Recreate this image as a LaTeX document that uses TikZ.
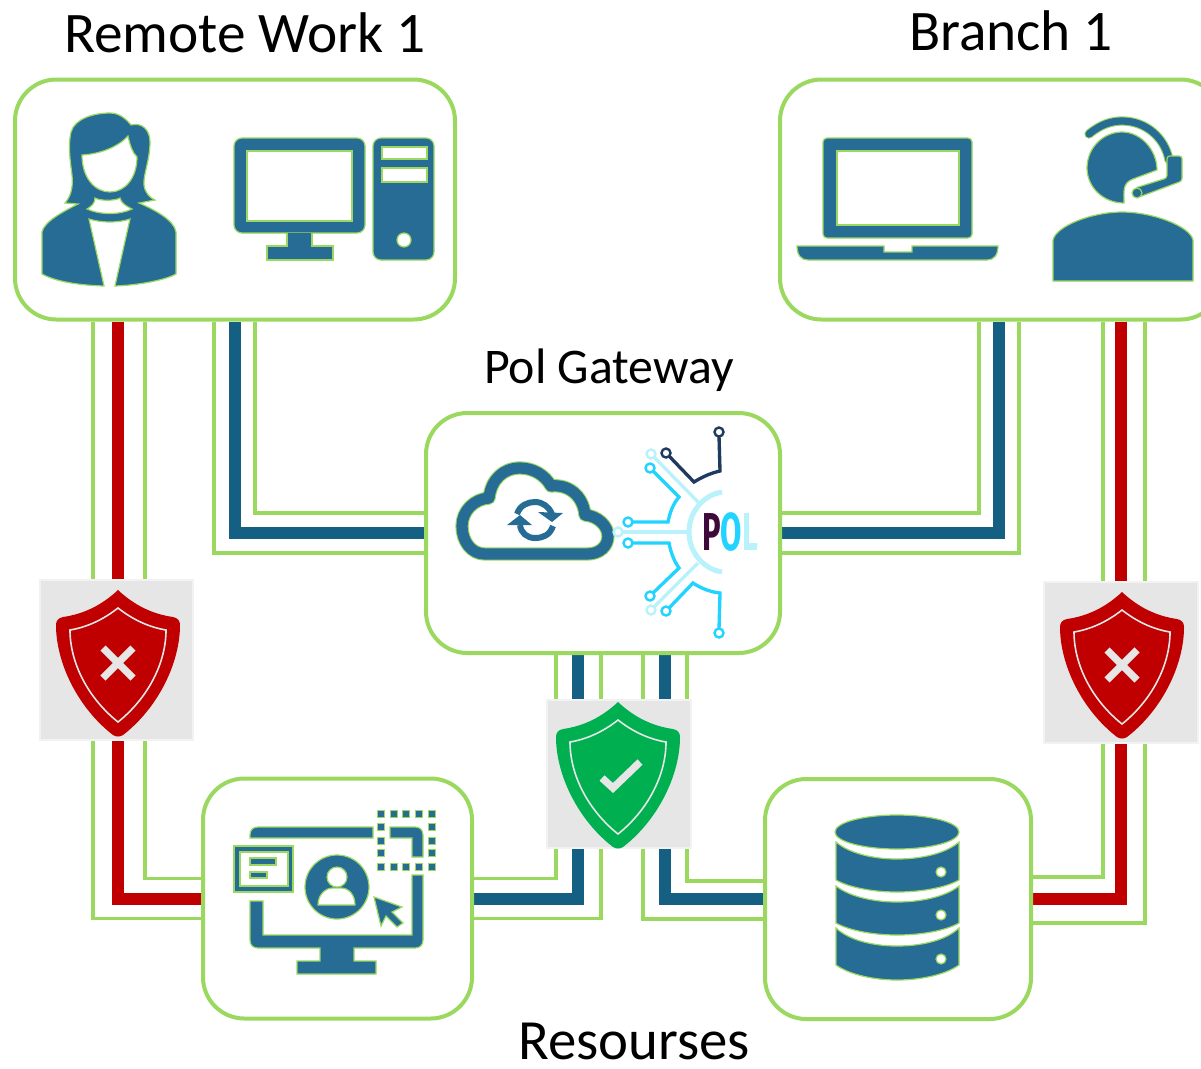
\documentclass[tikz,border=0pt]{standalone}
\usepackage{fontspec}
\setmainfont{Carlito}
\newfontfamily\polfont{Fira Sans}
\usetikzlibrary{calc}
\definecolor{limeline}{RGB}{155,216,95}
\definecolor{iconblue}{RGB}{38,108,148}
\definecolor{wireblue}{RGB}{21,96,130}
\definecolor{wirered}{RGB}{192,0,0}
\definecolor{guardgrey}{RGB}{230,230,230}
\definecolor{guardgreen}{RGB}{0,176,80}
\definecolor{polcyan}{RGB}{32,212,255}
\definecolor{pollight}{RGB}{186,242,251}
\definecolor{poldark}{RGB}{30,58,95}
\definecolor{polplum}{RGB}{62,10,58}
\pgfdeclarelayer{background}
\pgfsetlayers{background,main}
\tikzset{
  panel/.style={draw=limeline,fill=white,line width=3pt,rounded corners=31pt,minimum height=180pt,inner sep=0pt},
  title/.style={anchor=base,inner sep=0.75pt,font=\fontsize{43}{50}\selectfont},
  guard/.style={draw=guardgrey!50,fill=guardgrey,line width=1pt,inner sep=0pt},
  redline/.style={draw=wirered,line width=9pt},
  blueline/.style={draw=wireblue,line width=9pt},
  limewire/.style={draw=limeline,line width=2.6pt},
  icon/.style={fill=iconblue,draw=limeline,line width=0.9pt},
  iconhole/.style={fill=white,draw=limeline,line width=0.9pt},
  trace/.style={line width=2.5pt},
  ring/.style={fill=white,line width=1.8pt},
  shield/.pic={
    \fill [line join=round,pic actions] (0,-73) .. controls (-16,-58) and (-34,-49) .. (-55,-46) .. controls (-60,-45) and (-62,-42) .. (-62,-38) .. controls (-62,0) and (-40,45) .. (-5,72) .. controls (-2,74) and (2,74) .. (5,72) .. controls (40,45) and (62,0) .. (62,-38) .. controls (62,-42) and (60,-45) .. (55,-46) .. controls (34,-49) and (16,-58) .. (0,-73) -- cycle;
    \draw [guardgrey,line width=1.2pt] (0,-55) .. controls (-14,-44) and (-30,-36) .. (-48,-33) .. controls (-48,0) and (-30,35) .. (0,59) .. controls (30,35) and (48,0) .. (48,-33) .. controls (30,-36) and (14,-44) .. (0,-55) -- cycle;
  },
  crossmark/.pic={\draw [guardgrey,line width=5.5pt] (-15,-15) -- (15,15) (-15,15) -- (15,-15);},
  tickmark/.pic={\draw [guardgrey,line width=5.5pt] (-16,3) -- (-5,13) -- (22,-13);},
}

\begin{document}
\begin{tikzpicture}[x=0.75pt,y=0.75pt,yscale=-1,xscale=1]
\useasboundingbox (0,0) rectangle (1201,1068);

%Panels
\draw (235,199.5) node (remote) [panel,minimum width=330pt] {};
\draw (1001,199.5) node (branch) [panel,minimum width=331.5pt] {};
\draw (603,533) node (gateway) [panel,minimum width=265.5pt] {};
\draw (337.5,898.5) node (desktop) [panel,minimum width=201.75pt] {};
\draw (898,899) node (database) [panel,minimum width=199.5pt] {};

%Wires
\begin{pgfonlayer}{background}
\draw [redline] ($(remote.south)+(-117,0)$) |- (desktop.west);
\draw [limewire] ($(remote.south)+(-142,0)$) |- ($(desktop.west)+(0,20)$);
\draw [limewire] ($(remote.south)+(-90,0)$) |- ($(desktop.west)+(0,-20)$);
\draw [blueline] (remote.south) |- (gateway.west);
\draw [limewire] ($(remote.south)+(-21,0)$) |- ($(gateway.west)+(0,20)$);
\draw [limewire] ($(remote.south)+(20,0)$) |- ($(gateway.west)+(0,-20)$);
\draw [blueline] ($(branch.south)+(-2,0)$) |- (gateway.east);
\draw [limewire] ($(branch.south)+(-22,0)$) |- ($(gateway.east)+(0,-20)$);
\draw [limewire] ($(branch.south)+(18,0)$) |- ($(gateway.east)+(0,20)$);
\draw [redline] ($(branch.south)+(120,0)$) |- (database.east);
\draw [limewire] ($(branch.south)+(102,0)$) |- ($(database.east)+(0,-22)$);
\draw [limewire] ($(branch.south)+(144,0)$) |- ($(database.east)+(0,24)$);
\draw [blueline] ($(gateway.south)+(-25,0)$) |- (desktop.east);
\draw [limewire] ($(gateway.south)+(-47,0)$) |- ($(desktop.east)+(0,-20)$);
\draw [limewire] ($(gateway.south)+(-2,0)$) |- ($(desktop.east)+(0,20)$);
\draw [blueline] ($(gateway.south)+(62,0)$) |- (database.west);
\draw [limewire] ($(gateway.south)+(84,0)$) |- ($(database.west)+(0,-18)$);
\draw [limewire] ($(gateway.south)+(40,0)$) |- ($(database.west)+(0,20)$);
\end{pgfonlayer}

%Shields
\draw (116.5,660) node (guardleft) [guard,minimum width=114.75pt,minimum height=120pt] {};
\draw (1121,662.5) node (guardright) [guard,minimum width=115.5pt,minimum height=120.75pt] {};
\draw (619,774) node (guardmid) [guard,minimum width=108pt,minimum height=111pt] {};
\pic [transform shape,fill=wirered] at (118,663) {shield};
\pic [transform shape] at (118,663) {crossmark};
\pic [transform shape,fill=wirered] at (1122,665) {shield};
\pic [transform shape] at (1122,665) {crossmark};
\pic [transform shape,fill=guardgreen] at (618,775) {shield};
\pic [transform shape] at (618,775) {tickmark};

%Woman
\draw [icon] (104,286) .. controls (75,285) and (55,281) .. (42,274) -- (42,232) .. controls (44,222) and (62,212) .. (78,204) -- (65,203) .. controls (72,195) and (73,185) .. (72,175) .. controls (70,160) and (68,145) .. (71,132) .. controls (75,118) and (95,113) .. (110,113) .. controls (120,113) and (127,120) .. (131,125) .. controls (142,122) and (150,130) .. (150,142) .. controls (150,160) and (143,175) .. (144,185) .. controls (145,193) and (150,198) .. (155,200) -- (139,203) .. controls (155,210) and (174,220) .. (176,232) -- (176,274) .. controls (165,280) and (140,285) .. (115,286) -- (130,219) .. controls (118,223) and (102,223) .. (89,219) -- cycle;
\draw [iconhole] (82,155) .. controls (100,154) and (118,147) .. (128,136) .. controls (130,145) and (132,152) .. (137,157) .. controls (137,178) and (125,192) .. (110,192) .. controls (95,192) and (82,178) .. (82,155) -- cycle;
\draw [iconhole] (95,198) .. controls (100,201) and (115,201) .. (120,198) .. controls (121,203) and (126,206) .. (132,209) .. controls (120,215) and (100,215) .. (87,209) .. controls (92,206) and (95,203) .. (95,198) -- cycle;

%Computer
\draw [icon,rounded corners=6pt] (234,138) rectangle (365,233);
\draw [iconhole] (247,151) rectangle (352,221);
\draw [icon] (287,233) -- (287,246) -- (267,246) -- (267,260) -- (333,260) -- (333,246) -- (312,246) -- (312,233);
\draw [icon,rounded corners=6pt] (373,138) rectangle (434,260);
\draw [iconhole] (382,147) rectangle (427,159);
\draw [iconhole] (382,168) rectangle (427,182);
\draw [iconhole] (404,240) circle [radius=7];

%Laptop
\draw [icon,rounded corners=3pt] (823,238) -- (823,138) -- (972,138) -- (972,238) -- cycle;
\draw [iconhole] (837,151) rectangle (959,225);
\draw [icon] (797,246) -- (884,246) -- (884,252) -- (912,252) -- (912,246) -- (998,246) .. controls (998,255) and (994,260) .. (987,260) -- (808,260) .. controls (801,260) and (797,255) .. (797,246) -- cycle;

%Agent
\draw [icon] (1157,170) .. controls (1157,150) and (1141,132) .. (1122,132) .. controls (1103,132) and (1087,148) .. (1087,168) .. controls (1087,187) and (1103,203) .. (1124,203) .. controls (1124,192) and (1122,183) .. (1133,179) -- cycle;
\draw [limeline,line width=7pt,line cap=round] (1089,134) .. controls (1101,124) and (1112,121) .. (1122,121) .. controls (1146,121) and (1165,138) .. (1169,160);
\draw [iconblue,line width=5.4pt,line cap=round] (1089,134) .. controls (1101,124) and (1112,121) .. (1122,121) .. controls (1146,121) and (1165,138) .. (1169,160);
\draw [icon,rounded corners=2pt] (1167,156) -- (1182,156) -- (1182,181) -- (1139,197) -- (1135,188) -- (1167,178) -- cycle;
\draw [icon] (1137,193) circle [radius=5];
\draw [icon] (1053,281) -- (1053,240) .. controls (1056,226) and (1092,212) .. (1122,212) .. controls (1152,212) and (1190,226) .. (1193,240) -- (1193,281) -- cycle;

%Cloud
\draw [limeline,line width=10pt,line join=round] (485,554) .. controls (471,554) and (462,541) .. (462,526) .. controls (462,511) and (474,499) .. (489,498) .. controls (491,480) and (503,468) .. (520,468) .. controls (533,468) and (545,475) .. (551,486) .. controls (568,484) and (583,495) .. (585,515) .. controls (598,516) and (608,526) .. (608,536) .. controls (608,546) and (600,554) .. (587,554) -- cycle;
\draw [iconblue,line width=8.4pt,line join=round] (485,554) .. controls (471,554) and (462,541) .. (462,526) .. controls (462,511) and (474,499) .. (489,498) .. controls (491,480) and (503,468) .. (520,468) .. controls (533,468) and (545,475) .. (551,486) .. controls (568,484) and (583,495) .. (585,515) .. controls (598,516) and (608,526) .. (608,536) .. controls (608,546) and (600,554) .. (587,554) -- cycle;
\draw [iconblue,line width=4.5pt] (517,514) .. controls (520,505) and (528,502) .. (535,502) .. controls (543,502) and (549,507) .. (552,514);
\fill [iconblue] (538,512) -- (563,513) -- (552,522) -- cycle;
\draw [iconblue,line width=4.5pt] (553,526) .. controls (550,535) and (543,538) .. (535,538) .. controls (527,538) and (521,533) .. (520,525);
\fill [iconblue] (507,525) -- (532,525) -- (520,515) -- cycle;

%Pol circuit
\draw [pollight,line width=3.8pt] (722,492) .. controls (703,495) and (689,512) .. (689,532) .. controls (689,552) and (703,569) .. (722,572);
\draw [pollight,trace] (622,532) -- (687,532);
\draw [pollight,trace] (654,457) -- (698,502);
\draw [pollight,trace] (654,607) -- (698,563);
\draw [polcyan,trace] (653,471) -- (679,497) .. controls (673,504) and (670,512) .. (668,522) -- (632,522);
\draw [polcyan,trace] (632,543) -- (669,543) .. controls (671,553) and (674,561) .. (679,568) -- (653,593);
\draw [polcyan,trace] (669,608) -- (693,583) .. controls (702,589) and (711,592) .. (720,593) -- (719,629);
\draw [poldark,trace] (669,456) -- (694,482) .. controls (702,477) and (711,473) .. (720,471) -- (719,436);
\foreach \ringx/\ringy in {618/532,651/454,651/610}
  \draw [pollight,ring] (\ringx,\ringy) circle [radius=4.5];
\foreach \ringx/\ringy in {650/468,628/522,628/543,650/596,666/611,719/633}
  \draw [polcyan,ring] (\ringx,\ringy) circle [radius=4.5];
\foreach \ringx/\ringy in {666/453,719/432}
  \draw [poldark,ring] (\ringx,\ringy) circle [radius=4.5];
\draw (730,550) node (pollogo) [anchor=base,inner sep=0pt,xscale=0.58,font=\polfont\bfseries\fontsize{40}{40}\selectfont] {\textcolor{polplum}{P}\textcolor{polcyan}{O}\textcolor{pollight}{L}};

%Desktop
\draw [icon] (250,838) -- (250,835) .. controls (250,830) and (253,827) .. (258,827) -- (373,827) -- (373,838) -- cycle;
\draw [icon] (390,827) -- (415,827) .. controls (420,827) and (423,830) .. (423,835) -- (423,857) -- (412,857) -- (412,838) -- (390,838) -- cycle;
\draw [icon] (250,901) -- (263,901) -- (263,935) -- (412,935) -- (412,875) -- (423,875) -- (423,940) .. controls (423,945) and (420,948) .. (415,948) -- (354,948) -- (354,961) -- (376,961) -- (376,974) -- (297,974) -- (297,961) -- (320,961) -- (320,948) -- (258,948) .. controls (253,948) and (250,945) .. (250,940) -- cycle;
\draw [icon] (234,846) rectangle (293,892);
\draw [iconhole] (240,852) rectangle (288,886);
\draw [icon] (250,858) rectangle (276,865);
\draw [icon] (250,872) rectangle (267,878);
\draw [icon] (337,887) circle [radius=32];
\draw [iconhole] (337,877) circle [radius=10];
\draw [iconhole] (318,905) .. controls (318,895) and (325,888) .. (333,888) -- (341,888) .. controls (349,888) and (355,895) .. (355,905) -- cycle;
\draw [icon] (374,897) -- (402,907) -- (392,912) -- (403,923) -- (397,927) -- (386,916) -- (381,926) -- cycle;
\foreach \dotx in {381,394,406,419,432}
  \foreach \doty in {814,867}
    \draw [icon] (\dotx-3.5,\doty-3.5) rectangle (\dotx+3.5,\doty+3.5);
\foreach \dotx in {381,432}
  \foreach \doty in {827,841,853}
    \draw [icon] (\dotx-3.5,\doty-3.5) rectangle (\dotx+3.5,\doty+3.5);

%Database
\draw [icon] (836,842) .. controls (850,854) and (875,859) .. (897,859) .. controls (920,859) and (945,854) .. (959,842) -- (959,880) .. controls (945,888) and (920,892) .. (897,892) .. controls (875,892) and (850,888) .. (836,880) -- cycle;
\draw [icon] (836,886) .. controls (850,897) and (875,902) .. (897,902) .. controls (920,902) and (945,897) .. (959,886) -- (959,923) .. controls (945,931) and (920,935) .. (897,935) .. controls (875,935) and (850,931) .. (836,923) -- cycle;
\draw [icon] (836,928) .. controls (850,941) and (875,946) .. (897,946) .. controls (920,946) and (945,941) .. (959,928) -- (959,965) .. controls (945,975) and (920,980) .. (897,980) .. controls (875,980) and (850,975) .. (836,965) -- cycle;
\draw [icon] (897,832) ellipse [x radius=62,y radius=17];
\foreach \doty in {872,915,959}
  \draw [iconhole] (941,\doty) circle [radius=5];

% Text Node
\draw (245,52) node (lblremote) [title] {Remote Work 1};
\draw (1011,50) node (lblbranch) [title] {Branch 1};
\draw (609,383) node (lblgateway) [title,font=\fontsize{37.4}{44}\selectfont] {Pol Gateway};
\draw (634,1059) node (lblresources) [title,font=\fontsize{42.6}{46}\selectfont] {Resourses};

\end{tikzpicture}
\end{document}
